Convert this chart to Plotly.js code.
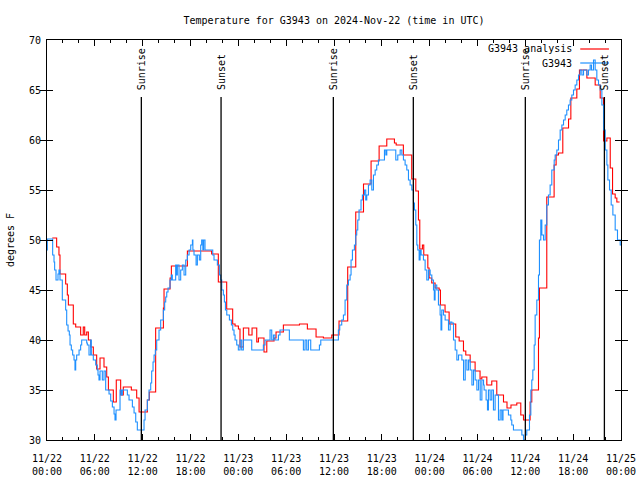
<!DOCTYPE html>
<html>
<head>
<meta charset="utf-8">
<script src="https://cdn.plot.ly/plotly-3.0.1.min.js"></script>
<style>html,body{margin:0;padding:0;background:#fff;}#chart{width:640px;height:480px;}</style>
</head>
<body>
<div id="chart"></div>
<script>
// Hours after 2024-11-22 00:00 UTC
const startTime = "2024-11-22 00:00";
const endTime = "2024-11-25 00:00";

const redHours = [0.66,0.88,1.21,1.5,1.63,2.34,2.55,2.68,3.3,3.6,4.22,4.55,4.73,4.98,5.19,5.48,5.81,6.23,6.65,7.15,7.49,7.7,8.32,8.69,9.24,9.57,10.58,11.25,11.55,12.59,12.84,13.63,14.6,14.68,15.44,15.6,17.61,20.65,21.49,22.54,23.29,23.59,24.01,24.21,24.63,25.31,25.72,26.31,26.52,27.22,27.57,28.48,28.73,29.65,31.67,32.66,33.75,34.67,35.72,36.63,37.72,38.73,39.7,40.65,41.66,42.62,43.58,43.8,44.7,45.75,46.26,46.59,46.76,47.09,47.26,47.77,47.93,48.26,48.68,49.19,49.35,49.93,50.44,51.27,51.7,52.24,52.53,53.08,53.7,54.32,54.54,55.17,55.79,56.42,57.26,57.7,58.2,58.93,59.43,59.77,60.6,60.81,61.65,61.77,62.69,63.61,63.86,64.16,64.7,65.42,65.71,66.46,66.79,67.72,68.76,69.39,69.81,70.23,70.65,70.94,71.27,71.48,71.82];
const redTemps = [50.2,50.2,49.3,48.5,46.6,45.6,44.5,43.5,41.6,41.3,40.5,41.3,40.5,40.8,40.0,39.3,38.5,37.1,38.2,37.3,36.3,35.0,33.8,36.0,34.5,35.3,35.0,34.2,32.8,34.0,34.8,41.2,43.2,45.1,46.2,47.4,48.9,48.6,45.8,43.1,41.6,41.4,41.1,39.3,41.2,40.5,41.2,39.8,40.2,38.8,39.9,40.2,40.8,41.5,41.6,41.1,40.3,40.2,40.5,41.9,47.3,52.8,55.6,57.9,59.4,60.1,59.7,59.5,58.5,56.1,54.9,52.0,49.1,49.5,48.5,47.2,46.2,45.7,45.2,45.0,43.5,42.8,41.6,40.3,39.9,38.9,38.5,37.8,36.9,36.1,36.3,35.5,35.9,34.5,33.8,33.2,33.5,33.7,32.5,32.0,33.8,35.0,40.2,45.2,54.3,57.5,58.5,58.7,61.2,62.1,64.2,65.1,67.0,66.2,65.5,64.2,59.9,60.2,57.2,54.6,54.2,53.8,53.8];

const blueHours = [0.0,0.04,0.71,0.88,0.96,1.13,1.38,1.5,1.63,1.92,2.34,2.47,2.64,2.8,2.89,3.05,3.22,3.39,3.51,3.6,3.72,4.02,4.22,4.35,4.98,5.06,5.27,5.48,5.56,5.81,6.11,6.31,6.4,6.52,6.65,6.94,7.15,7.36,7.78,7.99,8.2,8.41,8.53,8.66,9.16,9.33,9.45,10.08,10.29,10.71,10.92,11.13,11.33,12.17,12.3,12.59,12.8,13.01,13.13,13.3,13.43,13.59,13.76,14.05,14.26,14.6,14.76,14.89,15.02,15.18,15.43,15.6,15.72,16.14,16.25,16.35,16.56,16.77,16.98,17.19,17.4,17.61,17.82,18.03,18.24,18.3,18.44,18.7,18.86,19.11,19.28,19.4,19.55,19.65,19.82,20.79,20.95,21.37,21.62,21.79,21.92,22.12,22.25,22.38,22.55,22.88,23.13,23.3,23.46,23.59,23.8,24.0,24.22,24.42,24.63,25.68,27.14,27.35,27.98,28.19,28.4,28.6,29.03,29.23,30.4,32.16,32.37,32.58,32.79,33.08,34.17,34.34,36.55,36.72,36.97,37.18,37.39,37.6,37.81,38.02,38.14,38.31,38.56,38.73,38.85,38.98,39.14,39.39,39.56,39.82,39.98,40.11,40.32,40.53,40.74,40.95,41.16,41.36,41.57,42.33,42.5,42.62,43.75,44.0,44.3,44.51,44.71,44.92,45.13,45.34,45.55,45.76,45.97,46.09,46.26,46.39,46.51,46.68,46.8,46.93,47.22,47.43,47.64,47.85,48.06,48.27,48.48,48.58,48.68,48.89,49.1,49.31,49.42,49.52,49.73,49.94,50.36,50.57,50.78,50.99,51.2,51.41,51.62,52.04,52.25,52.46,52.67,52.88,53.09,53.3,53.5,53.71,53.92,54.13,54.34,54.55,54.76,54.83,55.08,55.25,55.37,55.58,55.79,56.0,56.21,56.63,56.84,57.05,57.2,57.47,57.88,58.18,58.3,58.51,59.56,59.77,60.0,60.18,60.52,60.69,60.81,60.94,61.11,61.23,61.44,61.65,61.77,61.94,62.07,62.28,62.49,62.69,62.9,63.11,63.32,63.62,63.74,63.95,64.16,64.37,64.58,64.79,65.0,65.2,65.41,65.62,65.83,66.04,66.25,66.46,66.67,66.88,67.09,67.3,67.71,67.92,68.13,68.3,68.55,68.76,68.97,69.18,69.39,69.6,69.81,70.02,70.23,70.35,70.56,70.77,70.98,71.27,71.56,71.9,72.0];
const blueTemps = [49.0,50.1,48.5,47.8,47.0,46.0,46.6,47.0,46.0,44.0,43.0,41.5,40.9,40.5,39.5,39.0,38.5,38.0,37.0,38.0,38.5,39.0,39.5,40.0,39.7,39.5,38.5,40.0,38.5,38.0,37.5,37.0,36.5,36.0,36.9,36.0,36.9,35.0,34.6,33.9,33.3,32.6,32.0,33.0,35.0,34.5,35.0,34.5,34.0,33.3,32.7,31.8,31.0,32.0,33.0,34.0,35.0,35.7,36.9,37.8,38.5,39.0,40.0,41.0,42.0,43.0,43.8,44.3,44.8,45.2,46.0,46.5,46.0,47.5,46.5,47.5,46.0,47.0,47.5,46.5,48.0,48.5,49.0,49.5,50.0,49.0,48.5,47.5,48.5,48.0,49.5,50.0,49.0,50.0,49.0,48.5,48.0,47.5,46.5,46.0,45.0,44.5,43.8,43.0,42.5,42.0,41.5,41.0,40.5,40.0,39.5,39.0,40.0,39.0,40.0,39.0,39.5,40.0,41.0,40.0,40.5,40.0,40.5,41.0,40.0,39.0,40.0,39.0,40.0,39.0,39.5,40.0,41.0,41.5,42.0,42.5,44.0,45.5,46.0,46.5,48.0,49.0,49.5,50.5,51.0,52.0,53.0,54.0,54.5,55.0,54.0,54.5,55.5,56.0,55.0,56.5,57.0,57.5,58.0,59.0,58.5,59.0,58.0,58.5,59.0,58.5,58.0,57.5,57.0,56.0,55.5,55.0,53.7,53.0,51.5,49.5,49.0,48.0,49.0,48.5,48.0,47.0,46.0,47.0,46.5,46.0,45.0,44.0,45.5,45.0,43.5,42.5,41.0,43.0,42.5,42.0,41.0,41.8,41.7,40.0,39.0,38.0,38.5,38.0,36.0,38.0,37.0,38.0,37.0,35.5,37.0,36.0,35.0,36.0,34.0,36.0,35.5,35.0,34.0,33.0,35.0,34.0,35.0,33.0,34.5,32.0,33.0,32.0,33.0,33.0,32.5,32.0,31.5,31.0,30.5,30.0,30.5,31.0,32.5,35.0,36.0,37.0,39.5,42.5,44.0,46.5,50.0,52.0,50.5,50.0,51.5,53.5,54.5,55.5,57.0,58.0,58.5,59.0,60.0,61.0,61.5,62.0,62.5,63.0,63.5,64.0,64.5,65.0,65.5,66.0,66.5,67.0,66.5,67.0,66.5,67.0,67.5,67.0,68.0,67.0,66.0,65.5,65.0,63.5,61.0,59.0,57.5,56.0,55.0,53.5,52.5,51.0,50.0,49.5,49.5];

const sunTimes = ["2024-11-22 11:50","2024-11-22 21:50","2024-11-23 11:55","2024-11-23 21:57","2024-11-24 12:00","2024-11-24 21:55"];
const sunLabels = ["Sunrise","Sunset","Sunrise","Sunset","Sunrise","Sunset"];

const xTickVals = ["2024-11-22 00:00","2024-11-22 06:00","2024-11-22 12:00","2024-11-22 18:00","2024-11-23 00:00","2024-11-23 06:00","2024-11-23 12:00","2024-11-23 18:00","2024-11-24 00:00","2024-11-24 06:00","2024-11-24 12:00","2024-11-24 18:00","2024-11-25 00:00"];
const xTickDates = ["11/22","11/22","11/22","11/22","11/23","11/23","11/23","11/23","11/24","11/24","11/24","11/24","11/25"];
const xTickTimes = ["00:00","06:00","12:00","18:00","00:00","06:00","12:00","18:00","00:00","06:00","12:00","18:00","00:00"];

const seriesNames = ["G3943 analysis","G3943"];
const seriesColors = ["#ff0000","#1e90ff"];

const t0 = Date.UTC(2024,10,22,0,0,0);
function toDate(h){
  return new Date(t0 + Math.round(h*3600000)).toISOString().replace('T',' ').slice(0,19);
}
const FONT = {family:"DejaVu Sans Mono, monospace", size:10, color:"#000"};

const traces = [
  {x: redHours.map(toDate), y: redTemps, type:'scatter', mode:'lines', name: seriesNames[0],
   line:{color:seriesColors[0], width:1.1, shape:'hv'}},
  {x: blueHours.map(toDate), y: blueTemps, type:'scatter', mode:'lines', name: seriesNames[1],
   line:{color:seriesColors[1], width:1.1, shape:'hv'}},
  // empty carrier so the second (time-of-day) label row of the x axis is drawn
  {x: [], y: [], type:'scatter', mode:'lines', xaxis:'x2', yaxis:'y', showlegend:false, hoverinfo:'skip'}
];

const shapes = sunTimes.map(t => ({type:'line', xref:'x', yref:'y', x0:t, x1:t, y0:30, y1:64.3,
  line:{color:'#000', width:1.3}}));
const annotations = sunTimes.map((t,i) => ({x:t, y:64.8, xref:'x', yref:'y', text:sunLabels[i],
  textangle:-90, showarrow:false, xanchor:'center', yanchor:'bottom', font:FONT}));

// key (legend) in the top right, gnuplot style: text then sample line
const keyTextX = 0.918, keyLineX0 = 0.929, keyLineX1 = 0.979;
const keyY = [0.9775, 0.9425];
seriesNames.forEach((n,i) => {
  annotations.push({x:keyTextX, y:keyY[i], xref:'paper', yref:'paper', text:n, showarrow:false,
    xanchor:'right', yanchor:'middle', font:FONT});
  shapes.push({type:'line', xref:'paper', yref:'paper', x0:keyLineX0, x1:keyLineX1, y0:keyY[i], y1:keyY[i],
    line:{color:seriesColors[i], width:1.2}});
});

const layout = {
  width:640, height:480,
  margin:{l:47, r:19, t:40, b:40},
  paper_bgcolor:'#fff', plot_bgcolor:'#fff',
  showlegend:false,
  title:{text:'Temperature for G3943 on 2024-Nov-22 (time in UTC)', font:FONT,
    x:0.5, xref:'paper', y:1-20/480, yref:'container', yanchor:'middle'},
  xaxis:{type:'date', range:[startTime,endTime], tickmode:'array', tickvals:xTickVals, ticktext:xTickDates,
    ticks:'inside', ticklen:6, tickwidth:1, tickcolor:'#000', showline:true, linecolor:'#000', linewidth:1,
    mirror:'allticks', showgrid:false, zeroline:false, tickfont:FONT, tickangle:0, ticklabelstandoff:9,
    minor:{dtick:7200000, tick0:startTime, ticks:'inside', ticklen:3, tickcolor:'#000', showgrid:false}},
  xaxis2:{type:'date', range:[startTime,endTime], overlaying:'x', anchor:'y', side:'bottom',
    tickmode:'array', tickvals:xTickVals, ticktext:xTickTimes, ticks:'', showline:false,
    showgrid:false, zeroline:false, tickfont:FONT, tickangle:0, ticklabelstandoff:24},
  yaxis:{range:[30,70], tickmode:'linear', tick0:30, dtick:5, ticks:'inside', ticklen:6, tickwidth:1,
    tickcolor:'#000', showline:true, linecolor:'#000', linewidth:1, mirror:'allticks', showgrid:false,
    zeroline:false, tickfont:FONT, ticklabelstandoff:3,
    title:{text:'degrees F', font:FONT, standoff:12}},
  shapes:shapes,
  annotations:annotations
};

Plotly.newPlot('chart', traces, layout, {displayModeBar:false, staticPlot:true});
</script>
</body>
</html>
